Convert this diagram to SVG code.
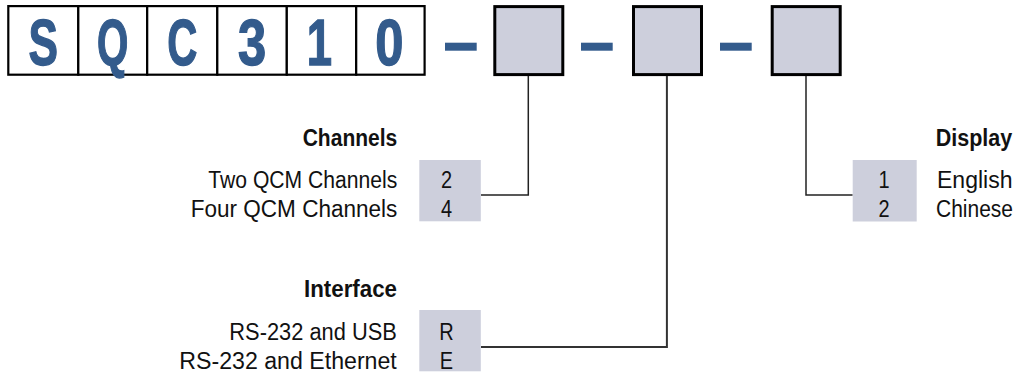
<svg xmlns="http://www.w3.org/2000/svg" width="1021" height="381" viewBox="0 0 1021 381">
<style>
.code{font-family:"Liberation Sans",Arial,sans-serif;font-weight:bold;font-size:65px;fill:#335b8c;stroke:#335b8c;stroke-width:1.4;text-anchor:middle}
.cell{fill:#ffffff;stroke:#000000;stroke-width:2.2}
.slot{fill:#cdcfdc;stroke:#000000;stroke-width:3}
.dash{fill:#335b8c}
.opt{fill:#cdcfdc}
.lbl{font-family:"Liberation Sans",Arial,sans-serif;font-size:23.5px;fill:#111111}
.hd{font-weight:bold}
.mid{text-anchor:middle}
.conn{fill:none;stroke:#222222;stroke-width:1.5}
</style>
<g id="code">
  <rect class="cell" x="8.3" y="6.1" width="70" height="68.6"/>
  <rect class="cell" x="78.3" y="6.1" width="68.9" height="68.6"/>
  <rect class="cell" x="147.2" y="6.1" width="70.1" height="68.6"/>
  <rect class="cell" x="217.3" y="6.1" width="69.5" height="68.6"/>
  <rect class="cell" x="286.8" y="6.1" width="69.4" height="68.6"/>
  <rect class="cell" x="356.2" y="6.1" width="68.4" height="68.6"/>
  <text class="code" transform="translate(43.3,65) scale(0.68,1)">S</text>
  <text class="code" transform="translate(112.7,65) scale(0.62,1)">Q</text>
  <text class="code" transform="translate(182.2,65) scale(0.64,1)">C</text>
  <text class="code" transform="translate(252,65) scale(0.78,1)">3</text>
  <text class="code" transform="translate(319.5,65) scale(0.7,1)">1</text>
  <text class="code" transform="translate(389.4,65) scale(0.78,1)">0</text>
</g>
<g id="dashes">
  <rect class="dash" x="445" y="42.7" width="31.7" height="8"/>
  <rect class="dash" x="581" y="42.7" width="31.7" height="8"/>
  <rect class="dash" x="720" y="42.7" width="31.7" height="8"/>
</g>
<g id="slot-channels"><rect class="slot" x="494.8" y="6.6" width="68" height="68"/></g>
<g id="slot-interface"><rect class="slot" x="633.5" y="6.6" width="68" height="68"/></g>
<g id="slot-display"><rect class="slot" x="772.2" y="6.6" width="68" height="68"/></g>
<g id="connectors">
  <path class="conn" d="M528.3 76 V195 H481"/>
  <path class="conn" d="M666.9 76 V347 H481" style="stroke:#333333;stroke-width:2"/>
  <path class="conn" d="M806 76 V195 H852.7"/>
</g>
<g id="channels">
  <rect class="opt" x="419.3" y="160" width="61.5" height="61.3"/>
  <text class="lbl hd" x="302.7" y="146" textLength="94.6" lengthAdjust="spacingAndGlyphs">Channels</text>
  <text class="lbl" x="208.3" y="187.5" textLength="189" lengthAdjust="spacingAndGlyphs">Two QCM Channels</text>
  <text class="lbl" x="190.7" y="216.5" textLength="206.7" lengthAdjust="spacingAndGlyphs">Four QCM Channels</text>
  <text class="lbl mid" transform="translate(446.5,187.5) scale(0.85,1)">2</text>
  <text class="lbl mid" transform="translate(446.5,216.5) scale(0.85,1)">4</text>
</g>
<g id="interface">
  <rect class="opt" x="419.3" y="310" width="61.5" height="61.3"/>
  <text class="lbl hd" x="304" y="296.5" textLength="93" lengthAdjust="spacingAndGlyphs">Interface</text>
  <text class="lbl" x="229.3" y="339.5" textLength="167.5" lengthAdjust="spacingAndGlyphs">RS-232 and USB</text>
  <text class="lbl" x="179.3" y="368.5" textLength="217.5" lengthAdjust="spacingAndGlyphs">RS-232 and Ethernet</text>
  <text class="lbl mid" transform="translate(446.5,339.5) scale(0.85,1)">R</text>
  <text class="lbl mid" transform="translate(446.5,368.5) scale(0.85,1)">E</text>
</g>
<g id="display">
  <rect class="opt" x="852.7" y="160" width="64" height="61.5"/>
  <text class="lbl hd" x="935.7" y="146" textLength="76.5" lengthAdjust="spacingAndGlyphs">Display</text>
  <text class="lbl" x="937" y="187.5" textLength="75.5" lengthAdjust="spacingAndGlyphs">English</text>
  <text class="lbl" x="936" y="216.5" textLength="77" lengthAdjust="spacingAndGlyphs">Chinese</text>
  <text class="lbl mid" transform="translate(884,187.5) scale(0.85,1)">1</text>
  <text class="lbl mid" transform="translate(884,216.5) scale(0.85,1)">2</text>
</g>
</svg>
